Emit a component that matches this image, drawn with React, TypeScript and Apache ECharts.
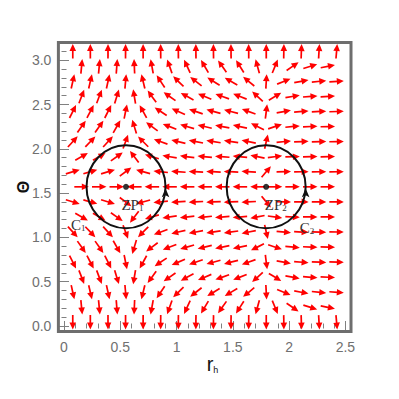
import React, { useEffect, useRef } from 'react';
import * as echarts from 'echarts';

// Grid of the vector field: staggered rows (type A columns on even rows, type B on odd rows)
const rColsA = [0.078, 0.234, 0.391, 0.547, 0.703, 0.859, 1.016, 1.172, 1.328, 1.484, 1.641, 1.797, 1.953, 2.109, 2.266, 2.422];
const phiRA = [0.2, 0.21, 0.2, 0.08, -0.22, -0.6, -0.92, -1.15, -1.45, -1.55, -1.1, 0.05, 2.2, 5, 9, 13];
const rColsB = [0.156, 0.313, 0.469, 0.625, 0.781, 0.938, 1.094, 1.25, 1.406, 1.563, 1.719, 1.875, 2.031, 2.188, 2.344];
const phiRB = [0.21, 0.21, 0.17, -0.09, -0.4, -0.78, -1.02, -1.3, -1.55, -1.4, -0.6, 0.9, 3.2, 7, 11];
const thetaRows = [0.041, 0.211, 0.381, 0.551, 0.721, 0.891, 1.061, 1.231, 1.401, 1.571, 1.741, 1.911, 2.081, 2.251, 2.421, 2.591, 2.761, 2.931, 3.101];
const phiTheta = [-150, -2.2, -0.9, -0.55, -0.4, -0.3, -0.22, -0.12, -0.06, 0, 0.06, 0.12, 0.22, 0.3, 0.4, 0.55, 0.9, 2.2, 150];

// Zero points and contours
const zpR = [0.551, 1.796];
const zpTheta = [1.571, 1.571];
const contourRx = [0.351, 0.351];
const contourRy = [0.468, 0.468];

// Annotations
const labelNames = ['ZP', 'ZP', 'C', 'C'];
const labelSubs = ['1', '2', '1', '2'];
const labelR = [0.608, 1.882, 0.127, 2.159];
const labelTheta = [1.366, 1.366, 1.146, 1.117];

const xTicks = [0, 0.5, 1, 1.5, 2, 2.5];
const yTicks = [0, 0.5, 1, 1.5, 2, 2.5, 3];

const FRAME = '#6e6e6e';
const TICK = '#808080';
const LABEL = '#707070';

export default function App() {
  const ref = useRef<HTMLDivElement>(null);
  useEffect(() => {
    if (!ref.current) return;
    const chart = echarts.init(ref.current, undefined, { renderer: 'svg' });

    const arrowData: number[][] = [];
    thetaRows.forEach((th, i) => {
      const cols = i % 2 === 0 ? rColsA : rColsB;
      const phis = i % 2 === 0 ? phiRA : phiRB;
      cols.forEach((r, k) => arrowData.push([r, th, phis[k], phiTheta[i]]));
    });

    const contourData = zpR.map((r, i) => [r, zpTheta[i], contourRx[i], contourRy[i]]);
    const labelData = labelNames.map((n, i) => [labelR[i], labelTheta[i], i]);

    const mkX = (pos: string, off: number, interval: number, len: number, labels: boolean) => ({
      type: 'value', gridIndex: 0, min: 0, max: 2.55, interval, position: pos, offset: off,
      axisLine: { show: false }, splitLine: { show: false },
      axisTick: { show: true, inside: true, length: len, lineStyle: { color: TICK, width: 1 } },
      axisLabel: labels ? {
        show: true, margin: 8, color: LABEL, fontSize: 14, fontFamily: 'Liberation Sans',
        formatter: (v: number) => (xTicks.some(t => Math.abs(t - v) < 1e-6) ? String(v) : ''),
      } : { show: false },
    });
    const mkY = (pos: string, off: number, interval: number, len: number, labels: boolean) => ({
      type: 'value', gridIndex: 0, min: 0, max: 3.2, interval, position: pos, offset: off,
      axisLine: { show: false }, splitLine: { show: false },
      axisTick: { show: true, inside: true, length: len, lineStyle: { color: TICK, width: 1 } },
      axisLabel: labels ? {
        show: true, margin: 7, color: LABEL, fontSize: 14, fontFamily: 'Liberation Sans',
        formatter: (v: number) => (yTicks.some(t => Math.abs(t - v) < 1e-6) ? v.toFixed(1) : ''),
      } : { show: false },
    });

    const option: any = {
      animation: false,
      grid: { left: 64, right: 48, top: 42.5, bottom: 73, containLabel: false },
      xAxis: [
        mkX('bottom', 5.6, 0.5, 5, true),
        mkX('bottom', 5.6, 0.1, 2.5, false),
        mkX('top', 0, 0.5, 5, false),
        mkX('top', 0, 0.1, 2.5, false),
      ],
      yAxis: [
        mkY('left', 5.6, 0.5, 5, true),
        mkY('left', 5.6, 0.1, 2.5, false),
        mkY('right', 0, 0.5, 5, false),
        mkY('right', 0, 0.1, 2.5, false),
      ],
      series: [
        {
          type: 'custom', xAxisIndex: 0, yAxisIndex: 0, data: arrowData, z: 2,
          renderItem: (params: any, api: any) => {
            const c = api.coord([api.value(0), api.value(1)]);
            let dx = api.value(2);
            let dy = -api.value(3);
            const n = Math.hypot(dx, dy) || 1;
            dx /= n; dy /= n;
            const L = 14.5, H = 7, W = 3.3;
            const tx = c[0] - dx * L / 2, ty = c[1] - dy * L / 2;
            const hx = c[0] + dx * L / 2, hy = c[1] + dy * L / 2;
            const bx = hx - dx * H, by = hy - dy * H;
            const px = -dy, py = dx;
            return {
              type: 'group',
              children: [
                { type: 'line', shape: { x1: tx, y1: ty, x2: bx + dx, y2: by + dy }, style: { stroke: '#ff0000', lineWidth: 1.7 } },
                { type: 'polygon', shape: { points: [[hx, hy], [bx + px * W, by + py * W], [bx - px * W, by - py * W]] }, style: { fill: '#ff0000' } },
              ],
            };
          },
        },
        {
          type: 'custom', xAxisIndex: 0, yAxisIndex: 0, data: contourData, z: 3,
          renderItem: (params: any, api: any) => {
            const c = api.coord([api.value(0), api.value(1)]);
            const s = api.size([api.value(2), api.value(3)]);
            const ax = c[0] + s[0];
            const tipY = c[1] + 1.5;
            return {
              type: 'group',
              children: [
                { type: 'ellipse', shape: { cx: c[0], cy: c[1], rx: s[0], ry: s[1] }, style: { fill: 'none', stroke: '#111', lineWidth: 2 } },
                { type: 'polygon', shape: { points: [[ax, tipY], [ax + 3.8, tipY + 9], [ax, tipY + 7], [ax - 3.8, tipY + 9]] }, style: { fill: '#111' } },
              ],
            };
          },
        },
        {
          type: 'scatter', xAxisIndex: 0, yAxisIndex: 0, z: 4,
          data: zpR.map((r, i) => [r, zpTheta[i]]),
          symbol: 'circle', symbolSize: 6, itemStyle: { color: '#000' },
        },
        {
          type: 'custom', xAxisIndex: 0, yAxisIndex: 0, data: labelData, z: 5,
          renderItem: (params: any, api: any) => {
            const c = api.coord([api.value(0), api.value(1)]);
            const i = api.value(2);
            return {
              type: 'text',
              style: {
                text: `{m|${labelNames[i]}}{s|${labelSubs[i]}}`,
                x: c[0], y: c[1], align: 'center', verticalAlign: 'middle',
                rich: {
                  m: { fontSize: 15, fontFamily: 'Liberation Serif', fill: '#333', verticalAlign: 'bottom', lineHeight: 16 },
                  s: { fontSize: 9, fontFamily: 'Liberation Serif', fill: '#333', verticalAlign: 'bottom', lineHeight: 16 },
                },
              },
            };
          },
        },
      ],
      graphic: [
        { type: 'rect', z: 100, shape: { x: 58.4, y: 42.5, width: 292.6, height: 289.1 }, style: { fill: 'none', stroke: FRAME, lineWidth: 3 } },
        {
          type: 'text', z: 100, x: 212.5, y: 374,
          style: {
            text: '{a|r}{b|h}', align: 'center', verticalAlign: 'bottom',
            rich: {
              a: { fontSize: 20, fontFamily: 'Liberation Sans', fill: '#111', verticalAlign: 'bottom' },
              b: { fontSize: 9, fontFamily: 'Liberation Sans', fill: '#111', verticalAlign: 'bottom' },
            },
          },
        },
        {
          type: 'text', z: 100, x: 23, y: 187, rotation: Math.PI / 2,
          style: { text: 'Θ', fontSize: 16, fontWeight: 'bold', fontFamily: 'Liberation Sans', fill: '#111', align: 'center', verticalAlign: 'middle' },
        },
      ],
    };
    chart.setOption(option);
    return () => chart.dispose();
  }, []);
  return <div ref={ref} style={{ position: 'fixed', left: 0, top: 0, width: 399, height: 399, background: '#fff' }} />;
}
